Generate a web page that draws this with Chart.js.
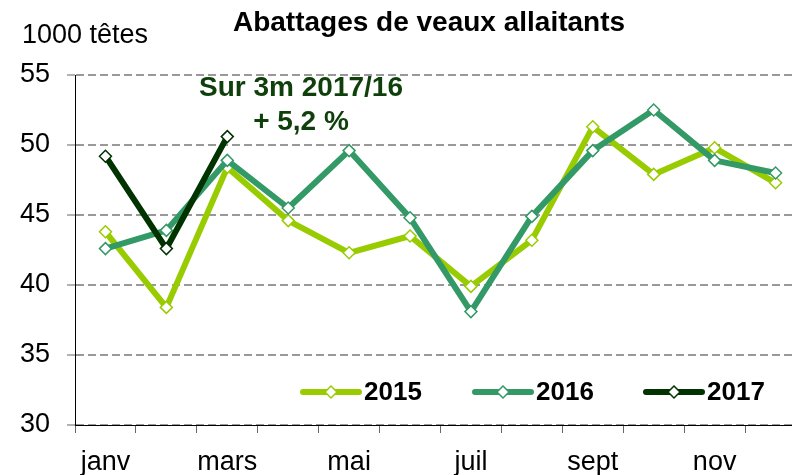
<!DOCTYPE html>
<html>
<head>
<meta charset="utf-8">
<script src="https://cdn.jsdelivr.net/npm/chart.js@4"></script>
<style>
  html, body { margin: 0; padding: 0; background: #fff; overflow: hidden; }
  canvas { display: block; }
</style>
</head>
<body>
<canvas id="chart" width="820" height="475"></canvas>
<script>
// DATA
const months = ["janv", "févr", "mars", "avr", "mai", "juin", "juil", "août", "sept", "oct", "nov", "déc"];
const y2015 = [43.8, 38.4, 48.4, 44.6, 42.3, 43.5, 39.9, 43.2, 51.3, 47.9, 49.8, 47.3];
const y2016 = [42.6, 43.9, 48.9, 45.5, 49.6, 44.8, 38.1, 44.9, 49.6, 52.5, 48.9, 48.0];
const y2017 = [49.2, 42.6, 50.6];
const seriesNames = ["2015", "2016", "2017"];
const seriesColors = ["#99CC00", "#339966", "#003300"];

const FONT = "'Liberation Sans', Arial, sans-serif";

function makeSet(i, data, order) {
  return {
    label: seriesNames[i],
    data: data,
    borderColor: seriesColors[i],
    backgroundColor: "#ffffff",
    borderWidth: 6,
    borderJoinStyle: "round",
    borderCapStyle: "round",
    pointStyle: "rectRot",
    pointRadius: 6,
    pointBorderWidth: 1.5,
    pointBorderColor: seriesColors[i],
    pointBackgroundColor: "#ffffff",
    tension: 0,
    order: order
  };
}

// TEXTS + LEGEND
const extras = {
  id: "extras",
  afterDraw(chart) {
    const ctx = chart.ctx;
    ctx.save();
    ctx.textBaseline = "middle";

    ctx.fillStyle = "#000";
    ctx.font = "bold 28px " + FONT;
    ctx.textAlign = "center";
    ctx.fillText("Abattages de veaux allaitants", 429, 23);

    ctx.font = "27px " + FONT;
    ctx.textAlign = "left";
    ctx.fillText("1000 têtes", 22, 36);

    ctx.fillStyle = "#0f3f0a";
    ctx.font = "bold 28px " + FONT;
    ctx.textAlign = "center";
    ctx.fillText("Sur 3m 2017/16", 301, 88);
    ctx.fillText("+ 5,2 %", 301, 122);

    // legend
    const starts = [303, 475, 646];
    const ly = 392;
    chart.data.datasets.forEach((ds, i) => {
      const x0 = starts[i];
      ctx.strokeStyle = ds.borderColor;
      ctx.lineWidth = 6;
      ctx.lineCap = "round";
      ctx.beginPath();
      ctx.moveTo(x0, ly);
      ctx.lineTo(x0 + 56, ly);
      ctx.stroke();
      const mx = x0 + 28;
      ctx.fillStyle = "#fff";
      ctx.lineWidth = 1.5;
      ctx.beginPath();
      ctx.moveTo(mx, ly - 6);
      ctx.lineTo(mx + 6, ly);
      ctx.lineTo(mx, ly + 6);
      ctx.lineTo(mx - 6, ly);
      ctx.closePath();
      ctx.fill();
      ctx.stroke();
      ctx.fillStyle = "#000";
      ctx.font = "bold 26px " + FONT;
      ctx.textAlign = "left";
      ctx.fillText(ds.label, x0 + 61, ly + 1);
    });
    ctx.restore();
  }
};

new Chart(document.getElementById("chart"), {
  type: "line",
  data: {
    labels: months,
    datasets: [
      makeSet(0, y2015, 3),
      makeSet(1, y2016, 2),
      makeSet(2, y2017, 1)
    ]
  },
  options: {
    responsive: false,
    animation: false,
    devicePixelRatio: 1,
    layout: { padding: { top: 75, right: 14, left: 0, bottom: 0 } },
    plugins: {
      legend: { display: false },
      title: { display: false },
      tooltip: { enabled: false }
    },
    scales: {
      x: {
        offset: true,
        afterFit(s) { s.height = 50; },
        grid: {
          offset: true,
          drawOnChartArea: false,
          drawTicks: true,
          tickLength: 8,
          color: "#666"
        },
        border: { color: "#000", width: 1 },
        ticks: {
          autoSkip: false,
          maxRotation: 0,
          padding: 13,
          color: "#000",
          font: { family: FONT, size: 27 },
          callback(v, i) { return i % 2 === 0 ? months[i] : ""; }
        }
      },
      y: {
        min: 30,
        max: 55,
        afterFit(s) { s.width = 75; },
        grid: {
          color: "#999999",
          lineWidth: 2,
          tickLength: 8,
          tickColor: "#666",
          tickWidth: 1,
          tickBorderDash: [0],
        },
        border: { color: "#000", width: 1, dash: [8, 4], display: true },
        ticks: {
          stepSize: 5,
          padding: 17,
          color: "#000",
          font: { family: FONT, size: 27 }
        }
      }
    }
  },
  plugins: [extras]
});
</script>
</body>
</html>
